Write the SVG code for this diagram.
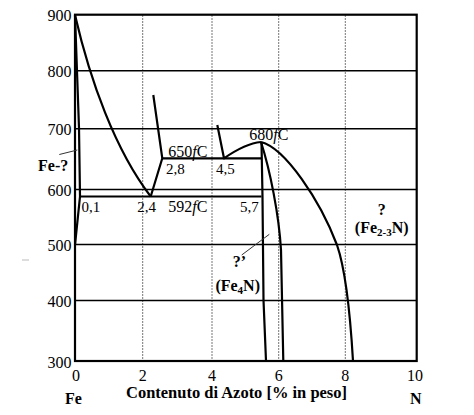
<svg xmlns="http://www.w3.org/2000/svg" width="474" height="415" viewBox="0 0 474 415">
<style>
.bg{fill:#fff}
.frame{fill:none;stroke:#000;stroke-width:2.2}
.hg{stroke:#000;stroke-width:1.6}
.vg{stroke:#777;stroke-width:1;stroke-dasharray:2 1}
.c{fill:none;stroke:#000;stroke-width:2.2;stroke-linejoin:round}
.thin{fill:none;stroke:#333;stroke-width:1}
.n{font-family:"Liberation Serif","Times New Roman",serif;font-size:16px;fill:#000}
.s{font-size:15px}
.b{font-weight:bold}
</style>
<rect class="bg" x="0" y="0" width="474" height="415"/>
<g id="grid">
<line class="vg" x1="142.7" y1="15" x2="142.7" y2="361"/>
<line class="vg" x1="212" y1="15" x2="212" y2="361"/>
<line class="vg" x1="278.7" y1="15" x2="278.7" y2="361"/>
<line class="vg" x1="345.3" y1="15" x2="345.3" y2="361"/>
<line class="hg" x1="75" y1="70.7" x2="416.7" y2="70.7"/>
<line class="hg" x1="75" y1="128.7" x2="416.7" y2="128.7"/>
<line class="hg" x1="75" y1="189.5" x2="416.7" y2="189.5"/>
<line class="hg" x1="75" y1="244.5" x2="416.7" y2="244.5"/>
<line class="hg" x1="75" y1="300.5" x2="416.7" y2="300.5"/>
<rect class="frame" x="75" y="14.7" width="341.7" height="346.3"/>
</g>
<g id="axes-labels">
<text class="n" x="71.5" y="20.7" text-anchor="end">900</text>
<text class="n" x="71.5" y="76.7" text-anchor="end">800</text>
<text class="n" x="71.5" y="134.7" text-anchor="end">700</text>
<text class="n" x="71.5" y="195.5" text-anchor="end">600</text>
<text class="n" x="71.5" y="250.5" text-anchor="end">500</text>
<text class="n" x="71.5" y="306.5" text-anchor="end">400</text>
<text class="n" x="71.5" y="367.5" text-anchor="end">300</text>
<text class="n" x="76" y="380.5" text-anchor="middle">0</text>
<text class="n" x="142.7" y="380.5" text-anchor="middle">2</text>
<text class="n" x="212" y="380.5" text-anchor="middle">4</text>
<text class="n" x="278.7" y="380.5" text-anchor="middle">6</text>
<text class="n" x="345.3" y="380.5" text-anchor="middle">8</text>
<text class="n" x="415" y="380.5" text-anchor="middle">10</text>
<text class="n b" x="65" y="403.5">Fe</text>
<text class="n b" x="126" y="398" font-size="15" textLength="221" lengthAdjust="spacingAndGlyphs">Contenuto di Azoto [% in peso]</text>
<text class="n b" x="410" y="403.5">N</text>
</g>
<g id="connectors">
<path class="c" d="M75,15 L79,128 L80,196.5 L75,245"/>
<path class="c" d="M75,15 C90,80 115,150 150.7,196.5"/>
<path class="c" d="M150.7,196.5 L162.3,158.3 L153.3,95"/>
<path class="c" d="M80,196.5 L261.5,196.5"/>
<path class="c" d="M162.3,158.3 L261.5,158.3"/>
<path class="c" d="M217.3,125 L224,158.3 C236,150 250,143 261,142"/>
<path class="c" d="M261.5,142 L262.5,197 L263.5,300 L266,361"/>
<path class="c" d="M261,142 C270,170 279,215 281,250 L283.3,361"/>
<path class="c" d="M261,142 C285,148 320,200 337,245 C345,268 350,310 353,361"/>
<line class="thin" x1="59.3" y1="154.5" x2="77.3" y2="150"/>
<line class="thin" x1="241.7" y1="255" x2="269.3" y2="234.3"/>
<line x1="22" y1="260" x2="29" y2="260" stroke="#bbb" stroke-width="1"/>
</g>
<g id="labels">
<text class="n b" x="38" y="170.5">Fe-?</text>
<text class="n s" x="81.5" y="212">0,1</text>
<text class="n s" x="137.3" y="212">2,4</text>
<text class="n" x="168.3" y="212">592<tspan font-style="italic">f</tspan>C</text>
<text class="n s" x="240" y="212">5,7</text>
<text class="n" x="168.3" y="156.5">650<tspan font-style="italic">f</tspan>C</text>
<text class="n s" x="166" y="174">2,8</text>
<text class="n s" x="216" y="174">4,5</text>
<text class="n" x="249.3" y="140">680<tspan font-style="italic">f</tspan>C</text>
<text class="n b" x="381.7" y="215" text-anchor="middle">?</text>
<text class="n b" x="381.7" y="233.3" text-anchor="middle">(Fe<tspan font-size="11" dy="3">2-3</tspan><tspan dy="-3">N)</tspan></text>
<text class="n b" x="239.3" y="266.7" text-anchor="middle">?’</text>
<text class="n b" x="237.7" y="290.7" text-anchor="middle">(Fe<tspan font-size="11" dy="3">4</tspan><tspan dy="-3">N)</tspan></text>
</g>
</svg>
